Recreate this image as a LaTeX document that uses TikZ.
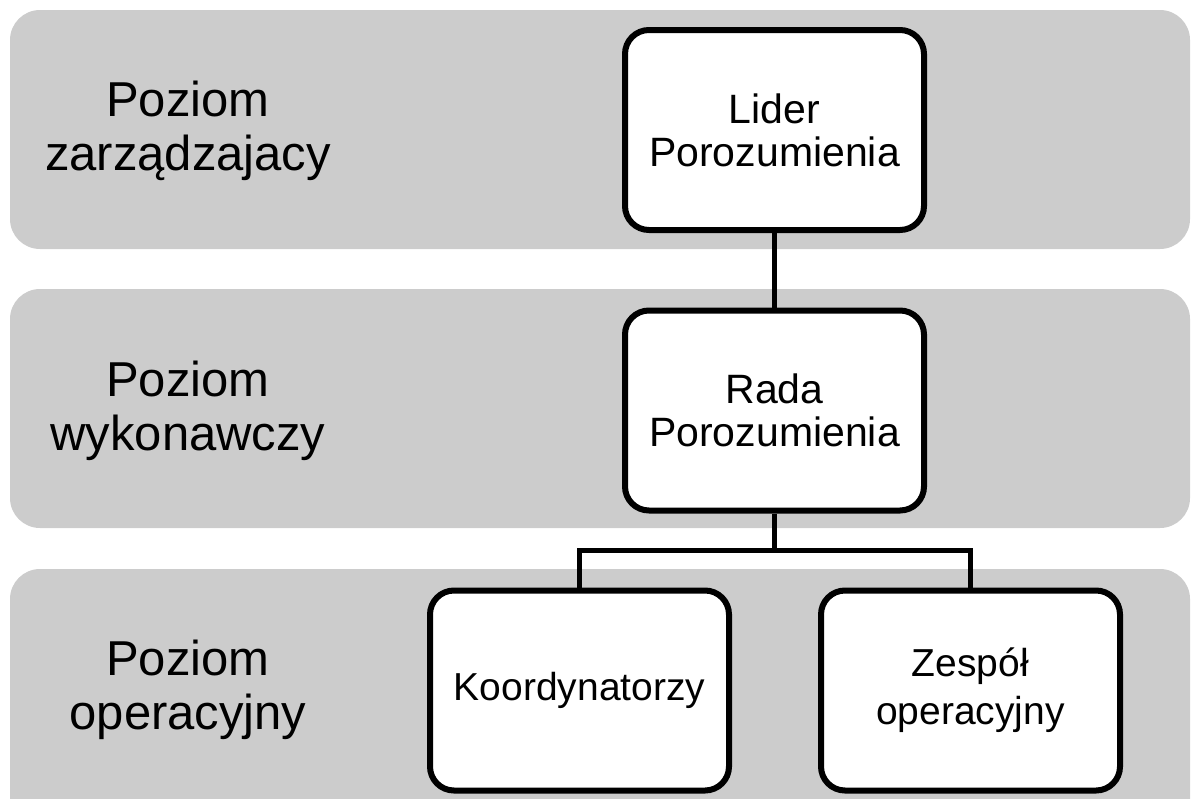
\documentclass[tikz,border=0pt]{standalone}
\usepackage{fontspec}
\setmainfont{Liberation Sans}
\usepackage{tikz}
\definecolor{band}{RGB}{204, 204, 204}

\begin{document}
\begin{tikzpicture}[x=0.5pt, y=-0.5pt,
    levelband/.style={fill=band, rounded corners=15pt},
    levellabel/.style={align=center, font=\fontsize{24.5pt}{27pt}\selectfont},
    orgbox/.style={draw, fill=white, line width=3pt, rounded corners=12pt,
      minimum width=149.5pt, minimum height=100pt, align=center,
      font=\fontsize{20.5pt}{21.5pt}\selectfont},
    lowbox/.style={orgbox, font=\fontsize{19.5pt}{24pt}\selectfont},
    link/.style={line width=2.5pt}]
  \useasboundingbox (0, 0) rectangle (1193, 798);
  \clip (0, 0) rectangle (1193, 798);

  % levels
  \fill[levelband] (10, 10) rectangle (1190, 249);
  \fill[levelband] (10, 289) rectangle (1190, 528);
  \fill[levelband] (10, 569) rectangle (1190, 840);

  \node[levellabel] (zarz) at (188, 131) {Poziom\\zarządzajacy};
  \node[levellabel] (wyk) at (188, 411) {Poziom\\wykonawczy};
  \node[levellabel] (oper) at (188, 690) {Poziom\\operacyjny};

  % structure
  \node[orgbox] (lider) at (774.5, 130) {Lider\\Porozumienia};
  \node[orgbox] (rada) at (774.5, 410.5) {Rada\\Porozumienia};
  \node[lowbox] (koord) at (579.5, 690.5) {Koordynatorzy};
  \node[lowbox] (zespol) at (970.5, 690.5) {Zespół\\operacyjny};

  \coordinate (bus) at (774.5, 550);
  \draw[link] (lider.south) -- (rada.north);
  \draw[link] (rada.south) -- (bus);
  \draw[link] (koord.north) |- (bus) -| (zespol.north);

\end{tikzpicture}
\end{document}
